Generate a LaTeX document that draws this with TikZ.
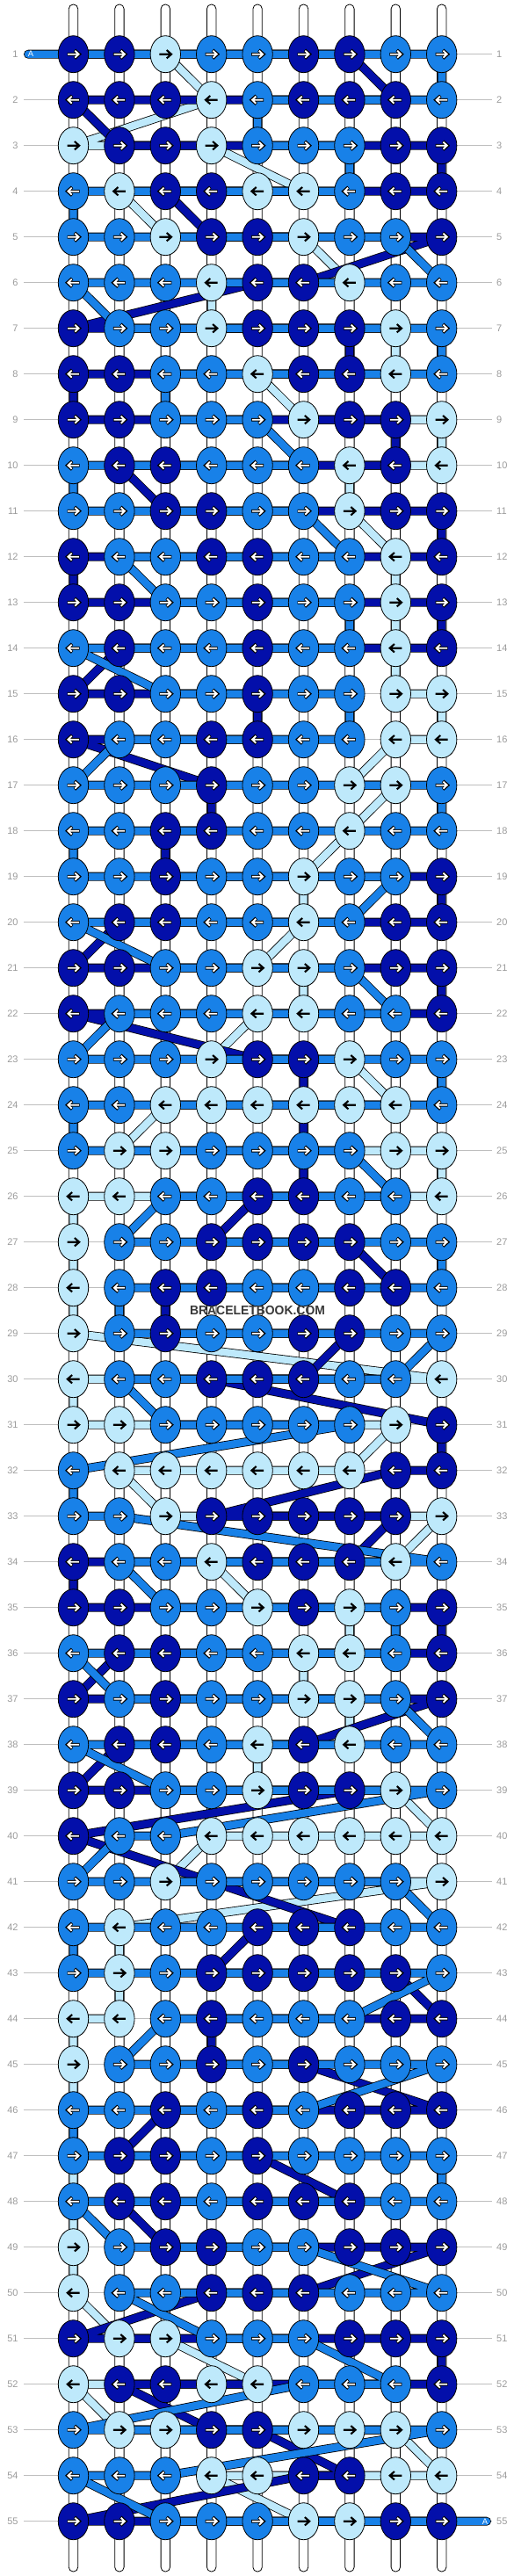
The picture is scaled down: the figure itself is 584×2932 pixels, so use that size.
\documentclass[tikz,border=0pt]{standalone}
\usepackage{fontspec}
\setmainfont{Liberation Sans}
\usetikzlibrary{shapes.geometric}
\definecolor{bbD}{RGB}{3,15,170}
\definecolor{bbM}{RGB}{24,129,232}
\definecolor{bbL}{RGB}{190,233,251}
\definecolor{bbgray}{RGB}{155,155,155}
\definecolor{bbline}{RGB}{190,190,190}

\ExplSyntaxOn
\tl_new:N \bbpath
\seq_new:N \g_bb_rows_seq
\seq_gset_from_clist:Nn \g_bb_rows_seq {
DDLMMDDMM, DDDLMDDDM, LDDLMMMDD, MLDDLLMDD, MMLDDLMMD,
MMMLDDLMM, DMMLDDDLM, DDMMLDDLM, DDMMMLDDL, MDDMMMLDL,
MMDDMMLDD, DMMDDMMLD, DDMMDMMLD, MDMMDMMLD, DDMMDMMLL,
DMMDDMMLL, MMMDMMLLM, MMDDMMLMM, MMDMMLMMD, MDDMMLMDD,
DDMMLLMDD, DMMMLLMMD, MMMLDDLMM, MMLLLLLLM, MLLMMMMLL,
LLMMDDMML, LMMDDDDMM, LMDDMMDDM, LMDMMDDMM, LMMDDDMML,
LLMMMMMLD, MLLLLLLDD, MMLDDDDDL, DMMLDDDLM, DDMMLDLMD,
MDDMMLLMD, DMDMMLLMD, MDDMLDLMM, DDMMLDDLM, DMMLLLLLL,
MMLMMMMML, MLMMDDDMM, MLMDDDDDM, LLMDMMMDD, LMMDMDMMM,
MMDMDMDDD, MDDMDMMMM, MDDMDDDMM, LMDDMMDDD, LMMDDDMMM,
DLLMMMDDD, LDDLLMMMD, MLLDDLLLM, MMMLLDDLL, DDMMMLLDD
}
\seq_map_indexed_inline:Nn \g_bb_rows_seq { \tl_const:cn { c_bb_row_#1_tl } {#2} }
\cs_new:Npn \bbcol #1#2 { \exp_args:Nc \tl_item:Nn { c_bb_row_#1_tl } {#2} }
\cs_new_protected:Npn \bb_add:nnn #1#2#3
{
  \str_if_eq:eeT {#1} { \bbcol{#2}{#3} }
   {
     \tl_if_empty:NTF \bbpath
      { \tl_put_right:Nn \bbpath { (k-#2-#3) } }
      { \tl_put_right:Nn \bbpath { --(k-#2-#3) } }
   }
}
\cs_new_protected:Npn \bbbuild #1
{
  \tl_clear:N \bbpath
  \int_step_inline:nn {55}
   {
     \int_if_odd:nTF {##1}
      { \int_step_inline:nnnn {1}{1}{9} { \bb_add:nnn {#1}{##1}{####1} } }
      { \int_step_inline:nnnn {9}{-1}{1} { \bb_add:nnn {#1}{##1}{####1} } }
   }
}
\ExplSyntaxOff

\tikzset{
  strandout/.style={draw=black, line width=10pt, line cap=round, line join=round},
  strandin/.style={line width=8.4pt, line cap=round, line join=round},
  knot/.style={ellipse, draw=black, line width=0.8pt, minimum width=34.4pt, minimum height=42pt, inner sep=0pt},
  arrowblack/.style={draw=black, line width=2.1pt, line cap=butt, line join=miter},
  arrowouter/.style={draw=black, line width=3.7pt, line cap=butt, line join=miter},
  arrowwhite/.style={draw=white, line width=1.9pt, line cap=butt, line join=miter},
  stringbar/.style={draw=black, fill=white, line width=0.8pt},
  rowline/.style={draw=bbline, line width=0.8pt},
  rowlbl/.style={text=bbgray, font=\fontsize{11}{13}\selectfont, inner sep=0pt},
  alabel/.style={text=white, font=\fontsize{9.5}{11}\selectfont, inner sep=0pt},
}

\begin{document}
\begin{tikzpicture}[x=1pt,y=-1pt]
\useasboundingbox (0,0) rectangle (584,2932);
% knot positions
\foreach \r in {1,...,55}{
  \foreach \c in {1,...,9}{
    \coordinate (k-\r-\c) at ({83.5+52.4*(\c-1)},{61.7+52*(\r-1)});
  }
}
\coordinate (astart) at (32,61.7);
\coordinate (aend) at (554,2869.7);
% row lines and labels
\foreach \r in {1,...,55}{
  \draw[rowline] (27,{61.7+52*(\r-1)}) -- (560,{61.7+52*(\r-1)});
  \node[rowlbl, anchor=east] (ll-\r) at (20.8,{61.7+52*(\r-1)}) {\r};
  \node[rowlbl, anchor=west] (rl-\r) at (565,{61.7+52*(\r-1)}) {\r};
}
% vertical strings
\foreach \c in {1,...,9}{
  \draw[stringbar, rounded corners=5pt] ({83.5+52.4*(\c-1)-5.2},5) rectangle ({83.5+52.4*(\c-1)+5.2},2927);
}
% strands
\bbbuild{L}
\edef\tmp{\noexpand\draw[strandout] \bbpath; \noexpand\draw[strandin, draw=bbL] \bbpath;}\tmp
\bbbuild{D}
\edef\tmp{\noexpand\draw[strandout] \bbpath; \noexpand\draw[strandin, draw=bbD] \bbpath;}\tmp
\bbbuild{M}
\edef\tmp{\noexpand\draw[strandout] (astart)--\bbpath--(aend); \noexpand\draw[strandin, draw=bbM] (astart)--\bbpath--(aend);}\tmp
\node[alabel] (as) at (35,61.7) {A};
\node[alabel] (ae) at (552,2869.7) {A};
% knots
\foreach \r in {1,...,55}{
  \pgfmathtruncatemacro\dir{ifthenelse(mod(\r,2)==1,1,-1)}
  \foreach \c in {1,...,9}{
    \edef\kc{\bbcol{\r}{\c}}
    \node[knot, fill=bb\kc] (n-\r-\c) at (k-\r-\c) {};
    \if L\kc
      \draw[arrowblack, shift={(k-\r-\c)}, xscale=\dir] (-7,0)--(6.3,0) (1.4,-4.7)--(6.7,0)--(1.4,4.7);
    \else
      \draw[arrowouter, shift={(k-\r-\c)}, xscale=\dir] (-7,0)--(6.3,0) (1.4,-4.7)--(6.7,0)--(1.4,4.7);
      \draw[arrowwhite, shift={(k-\r-\c)}, xscale=\dir] (-6.3,0)--(5.8,0) (1.8,-4.0)--(6.0,0)--(1.8,4.0);
    \fi
  }
}
\node[text=black!78, font=\bfseries\fontsize{14.5}{16}\selectfont, inner sep=0pt] (wm) at (293,1491.7) {\scalebox{0.96}[1]{BRACELETBOOK.COM}};
\end{tikzpicture}
\end{document}
